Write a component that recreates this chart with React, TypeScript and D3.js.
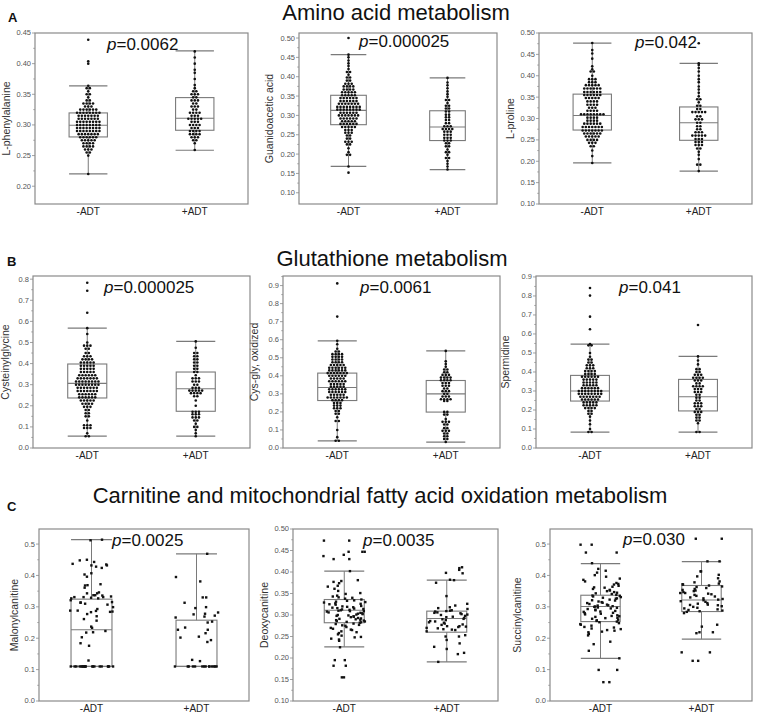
import React from 'react';
import * as d3 from 'd3';

// ---------- DATA ----------
const groups = ['-ADT', '+ADT'];
const sectionTitles = [
  'Amino acid metabolism',
  'Glutathione metabolism',
  'Carnitine and mitochondrial fatty acid oxidation metabolism',
];
const sectionLetters = ['A', 'B', 'C'];
const metaboliteNames = [
  'L-phenylalanine', 'Guanidoacetic acid', 'L-proline',
  'Cysteinylglycine', 'Cys-gly, oxidized', 'Spermidine',
  'Malonylcanitine', 'Deoxycanitine', 'Succinylcanitine',
];
const pValues = ['0.0062', '0.000025', '0.042', '0.000025', '0.0061', '0.041', '0.0025', '0.0035', '0.030'];

const yDomains: [number, number][] = [
  [0.171, 0.45], [0.071, 0.513], [0.1, 0.5],
  [0, 0.815], [0, 0.953], [0, 0.905],
  [0, 0.548], [0.1, 0.5], [0, 0.548],
];
const ticksA1 = [0.2, 0.25, 0.3, 0.35, 0.4, 0.45];
const ticks010_050 = [0.1, 0.15, 0.2, 0.25, 0.3, 0.35, 0.4, 0.45, 0.5];
const ticks0_08 = [0, 0.1, 0.2, 0.3, 0.4, 0.5, 0.6, 0.7, 0.8];
const ticks0_09 = [0, 0.1, 0.2, 0.3, 0.4, 0.5, 0.6, 0.7, 0.8, 0.9];
const ticks0_05 = [0, 0.1, 0.2, 0.3, 0.4, 0.5];
const yTickSets = [ticksA1, ticks010_050, ticks010_050, ticks0_08, ticks0_09, ticks0_09, ticks0_05, ticks010_050, ticks0_05];
const tickDecimals = [2, 2, 2, 1, 1, 1, 1, 2, 1];

// box stats: [lower whisker, Q1, median, Q3, upper whisker]
const boxMinus = [
  [0.220, 0.2804, 0.2995, 0.3196, 0.3636],
  [0.168, 0.276, 0.313, 0.352, 0.457],
  [0.196, 0.273, 0.307, 0.357, 0.4765],
  [0.056, 0.237, 0.306, 0.398, 0.568],
  [0.039, 0.263, 0.335, 0.415, 0.594],
  [0.084, 0.247, 0.300, 0.382, 0.547],
  [0.110, 0.110, 0.227, 0.3245, 0.514],
  [0.226, 0.282, 0.311, 0.336, 0.402],
  [0.136, 0.253, 0.301, 0.337, 0.438],
];
const boxPlus = [
  [0.2587, 0.2913, 0.3109, 0.3446, 0.4207],
  [0.160, 0.235, 0.270, 0.312, 0.397],
  [0.177, 0.249, 0.290, 0.327, 0.429],
  [0.056, 0.174, 0.281, 0.360, 0.505],
  [0.033, 0.199, 0.300, 0.374, 0.538],
  [0.084, 0.195, 0.270, 0.361, 0.482],
  [0.110, 0.110, 0.110, 0.2575, 0.469],
  [0.191, 0.260, 0.292, 0.309, 0.381],
  [0.197, 0.285, 0.322, 0.368, 0.444],
];

// dot-plot data: [value, number of patients at that value]
const phenylalanineMinus: [number, number][] = [
  [0.220, 1], [0.250, 1], [0.255, 2], [0.260, 3], [0.265, 4], [0.270, 4], [0.275, 5], [0.280, 6], [0.285, 7],
  [0.290, 8], [0.295, 8], [0.300, 8], [0.305, 8], [0.310, 7], [0.315, 7], [0.320, 8], [0.325, 6], [0.330, 3],
  [0.335, 4], [0.340, 2], [0.345, 1], [0.350, 2], [0.355, 1], [0.360, 2], [0.364, 1], [0.400, 1], [0.404, 1], [0.439, 1],
];
const phenylalaninePlus: [number, number][] = [
  [0.259, 1], [0.270, 1], [0.275, 2], [0.280, 3], [0.285, 4], [0.290, 4], [0.295, 3], [0.300, 4], [0.305, 3],
  [0.310, 5], [0.315, 3], [0.320, 4], [0.325, 2], [0.330, 3], [0.335, 2], [0.340, 3], [0.345, 2], [0.350, 3],
  [0.355, 2], [0.360, 1], [0.365, 1], [0.375, 1], [0.385, 1], [0.390, 1], [0.400, 1], [0.410, 1], [0.420, 1],
];
const guanidoaceticMinus: [number, number][] = [
  [0.152, 1], [0.168, 1], [0.198, 2], [0.205, 1], [0.215, 1], [0.225, 2], [0.232, 3], [0.240, 2], [0.248, 2],
  [0.255, 3], [0.262, 3], [0.270, 5], [0.278, 6], [0.285, 5], [0.292, 6], [0.300, 7], [0.307, 6], [0.315, 8],
  [0.322, 8], [0.330, 7], [0.337, 6], [0.345, 6], [0.352, 5], [0.360, 5], [0.367, 4], [0.375, 4], [0.382, 3],
  [0.390, 2], [0.398, 2], [0.405, 1], [0.412, 2], [0.420, 1], [0.428, 1], [0.435, 1], [0.442, 1], [0.450, 1],
  [0.457, 1], [0.500, 1],
];
const guanidoaceticPlus: [number, number][] = [
  [0.160, 1], [0.168, 1], [0.175, 1], [0.182, 1], [0.190, 2], [0.198, 1], [0.205, 2], [0.212, 1], [0.220, 2],
  [0.228, 2], [0.235, 3], [0.242, 3], [0.250, 3], [0.258, 3], [0.265, 4], [0.272, 3], [0.280, 2], [0.288, 2],
  [0.295, 2], [0.302, 2], [0.310, 2], [0.318, 2], [0.325, 2], [0.332, 1], [0.340, 2], [0.348, 1], [0.355, 1],
  [0.362, 1], [0.370, 1], [0.378, 1], [0.385, 1], [0.397, 1],
];
const prolineMinus: [number, number][] = [
  [0.196, 1], [0.212, 1], [0.225, 1], [0.235, 2], [0.243, 3], [0.250, 4], [0.258, 5], [0.265, 6], [0.272, 7],
  [0.280, 7], [0.288, 6], [0.295, 4], [0.302, 4], [0.310, 8], [0.318, 4], [0.325, 3], [0.332, 4], [0.340, 4],
  [0.348, 5], [0.355, 6], [0.362, 6], [0.370, 6], [0.378, 5], [0.385, 3], [0.392, 3], [0.400, 1], [0.410, 2],
  [0.415, 1], [0.422, 1], [0.440, 1], [0.452, 1], [0.460, 1], [0.4765, 1],
];
const prolinePlus: [number, number][] = [
  [0.177, 1], [0.192, 2], [0.205, 1], [0.215, 1], [0.222, 1], [0.230, 2], [0.238, 3], [0.245, 3], [0.252, 3],
  [0.260, 5], [0.268, 3], [0.275, 2], [0.282, 2], [0.290, 2], [0.298, 3], [0.305, 2], [0.315, 5], [0.322, 2],
  [0.330, 2], [0.338, 1], [0.345, 2], [0.352, 1], [0.360, 1], [0.368, 1], [0.375, 1], [0.385, 1], [0.392, 1],
  [0.400, 1], [0.410, 1], [0.418, 1], [0.425, 1], [0.429, 1], [0.476, 1],
];
const cysteinylglycineMinus: [number, number][] = [
  [0.056, 2], [0.070, 1], [0.095, 3], [0.108, 3], [0.130, 1], [0.150, 2], [0.165, 2], [0.180, 2], [0.195, 3],
  [0.210, 4], [0.225, 5], [0.240, 6], [0.255, 6], [0.270, 7], [0.285, 7], [0.300, 8], [0.315, 8], [0.330, 7],
  [0.345, 6], [0.360, 5], [0.375, 5], [0.390, 5], [0.405, 5], [0.420, 4], [0.435, 3], [0.450, 2], [0.470, 2],
  [0.485, 3], [0.500, 1], [0.540, 1], [0.568, 1], [0.641, 1], [0.745, 1], [0.783, 1],
];
const cysteinylglycinePlus: [number, number][] = [
  [0.056, 1], [0.070, 1], [0.085, 1], [0.100, 2], [0.115, 1], [0.130, 2], [0.145, 3], [0.160, 3], [0.172, 3],
  [0.200, 1], [0.225, 1], [0.245, 2], [0.260, 4], [0.272, 5], [0.285, 3], [0.300, 2], [0.315, 3], [0.330, 3],
  [0.345, 1], [0.360, 2], [0.375, 2], [0.390, 2], [0.405, 2], [0.420, 2], [0.435, 2], [0.450, 2], [0.475, 1],
  [0.505, 1],
];
const cysGlyOxMinus: [number, number][] = [
  [0.040, 2], [0.060, 1], [0.100, 1], [0.150, 2], [0.170, 1], [0.190, 2], [0.205, 2], [0.220, 3], [0.235, 3],
  [0.250, 3], [0.265, 4], [0.280, 7], [0.295, 5], [0.310, 6], [0.325, 6], [0.340, 5], [0.355, 5], [0.370, 6],
  [0.385, 5], [0.400, 6], [0.415, 7], [0.430, 6], [0.445, 6], [0.460, 5], [0.475, 4], [0.490, 4], [0.505, 4],
  [0.520, 4], [0.535, 2], [0.550, 1], [0.575, 1], [0.594, 1], [0.728, 1], [0.912, 1],
];
const cysGlyOxPlus: [number, number][] = [
  [0.033, 1], [0.050, 2], [0.065, 2], [0.080, 2], [0.095, 3], [0.110, 2], [0.130, 2], [0.145, 3], [0.160, 1],
  [0.185, 2], [0.200, 2], [0.260, 2], [0.270, 4], [0.285, 3], [0.300, 2], [0.315, 3], [0.330, 2], [0.345, 3],
  [0.360, 3], [0.375, 4], [0.390, 4], [0.405, 3], [0.420, 2], [0.435, 2], [0.450, 1], [0.465, 1], [0.480, 1],
  [0.538, 1],
];
const spermidineMinus: [number, number][] = [
  [0.084, 2], [0.100, 1], [0.125, 1], [0.145, 1], [0.165, 1], [0.180, 2], [0.195, 2], [0.210, 4], [0.225, 5],
  [0.240, 5], [0.255, 6], [0.270, 7], [0.285, 8], [0.300, 8], [0.315, 6], [0.330, 5], [0.345, 5], [0.360, 5],
  [0.375, 6], [0.390, 4], [0.405, 4], [0.420, 3], [0.435, 3], [0.450, 2], [0.465, 2], [0.480, 1], [0.500, 1],
  [0.540, 2], [0.547, 1], [0.625, 1], [0.691, 1], [0.802, 1], [0.842, 1],
];
const spermidinePlus: [number, number][] = [
  [0.084, 2], [0.130, 1], [0.145, 2], [0.160, 2], [0.175, 2], [0.190, 3], [0.205, 2], [0.220, 3], [0.235, 3],
  [0.250, 2], [0.265, 2], [0.280, 2], [0.295, 3], [0.310, 3], [0.325, 4], [0.340, 2], [0.355, 3], [0.370, 4],
  [0.385, 3], [0.400, 2], [0.415, 2], [0.440, 1], [0.460, 1], [0.482, 1], [0.647, 1],
];

// jittered scatter data (one value per patient)
const malonylMinus = [
  0.514, 0.512, 0.407, 0.437, 0.432, 0.435, 0.450, 0.432, 0.443, 0.424, 0.396, 0.403, 0.428, 0.448, 0.369,
  0.343, 0.343, 0.346, 0.372, 0.329, 0.331, 0.368, 0.361, 0.336, 0.333, 0.337, 0.337, 0.331, 0.331, 0.327,
  0.327, 0.299, 0.315, 0.307, 0.310, 0.288, 0.261, 0.256, 0.321, 0.287, 0.285, 0.284, 0.283, 0.288, 0.314,
  0.270, 0.293, 0.277, 0.313, 0.219, 0.203, 0.233, 0.237, 0.176, 0.223, 0.129, 0.184, 0.218,
  0.11, 0.11, 0.11, 0.11, 0.11, 0.11, 0.11, 0.11, 0.11, 0.11, 0.11, 0.11, 0.11, 0.11, 0.11, 0.11, 0.11, 0.11, 0.11, 0.11,
];
const malonylPlus = [
  0.469, 0.395, 0.381, 0.330, 0.330, 0.299, 0.313, 0.272, 0.266, 0.253, 0.250, 0.282, 0.194, 0.227, 0.276,
  0.227, 0.216, 0.205, 0.188, 0.278, 0.269, 0.296, 0.234, 0.127, 0.131, 0.202,
  0.11, 0.11, 0.11, 0.11, 0.11, 0.11, 0.11, 0.11, 0.11, 0.11, 0.11, 0.11, 0.11, 0.11,
];
const deoxyMinus = [
  0.473, 0.473, 0.447, 0.447, 0.447, 0.440, 0.437, 0.430, 0.430, 0.402, 0.225, 0.182, 0.182, 0.195, 0.195,
  0.155, 0.155,
  0.381, 0.379, 0.377, 0.374, 0.366, 0.368, 0.361, 0.356, 0.351, 0.349, 0.345, 0.343, 0.341, 0.340, 0.338,
  0.336, 0.334, 0.333, 0.331, 0.330, 0.329, 0.327, 0.326, 0.325, 0.324, 0.321, 0.320, 0.319, 0.318, 0.317,
  0.316, 0.315, 0.314, 0.313, 0.312, 0.311, 0.310, 0.309, 0.309, 0.308, 0.306, 0.305, 0.304, 0.303, 0.302,
  0.301, 0.300, 0.299, 0.298, 0.297, 0.296, 0.295, 0.293, 0.292, 0.291, 0.290, 0.289, 0.288, 0.287, 0.286,
  0.285, 0.284, 0.283, 0.282, 0.280, 0.279, 0.277, 0.276, 0.275, 0.272, 0.270, 0.268, 0.266, 0.265, 0.262,
  0.260, 0.258, 0.255, 0.252, 0.249, 0.248, 0.245, 0.243, 0.240,
];
const deoxyPlus = [
  0.405, 0.411, 0.409, 0.398, 0.397, 0.382, 0.381, 0.375, 0.344, 0.322, 0.274, 0.270, 0.221, 0.212, 0.209,
  0.234, 0.191, 0.250, 0.253, 0.250, 0.226, 0.242, 0.266, 0.273, 0.282, 0.326,
  0.318, 0.316, 0.314, 0.311, 0.310, 0.309, 0.308, 0.306, 0.305, 0.304, 0.302, 0.301, 0.300, 0.298, 0.296,
  0.295, 0.293, 0.291, 0.290, 0.288, 0.286, 0.285, 0.283, 0.280, 0.278, 0.277, 0.274, 0.272, 0.269, 0.267,
  0.265, 0.262,
];
const succinylMinus = [
  0.498, 0.498, 0.473, 0.473, 0.439, 0.099, 0.099, 0.060, 0.060, 0.160, 0.181, 0.189, 0.136,
  0.421, 0.415, 0.409, 0.401, 0.396, 0.390, 0.386, 0.381, 0.376, 0.373, 0.371, 0.367, 0.364, 0.362, 0.361,
  0.357, 0.354, 0.352, 0.350, 0.347, 0.345, 0.343, 0.341, 0.338, 0.336, 0.335, 0.333, 0.331, 0.329, 0.327,
  0.326, 0.323, 0.321, 0.320, 0.317, 0.315, 0.313, 0.312, 0.309, 0.307, 0.305, 0.304, 0.302, 0.301, 0.300,
  0.298, 0.297, 0.295, 0.293, 0.291, 0.289, 0.287, 0.285, 0.284, 0.281, 0.280, 0.278, 0.276, 0.273, 0.271,
  0.270, 0.268, 0.265, 0.264, 0.262, 0.259, 0.257, 0.255, 0.253, 0.251, 0.248, 0.245, 0.243, 0.240, 0.236,
  0.234, 0.231, 0.229, 0.226, 0.224, 0.221, 0.219, 0.214, 0.209,
];
const succinylPlus = [
  0.517, 0.517, 0.445, 0.445, 0.413, 0.402, 0.391, 0.397, 0.413, 0.344, 0.306, 0.280, 0.219, 0.243, 0.216,
  0.237, 0.219, 0.128, 0.128, 0.155, 0.155,
  0.381, 0.378, 0.374, 0.372, 0.371, 0.368, 0.365, 0.363, 0.360, 0.357, 0.354, 0.352, 0.350, 0.347, 0.344,
  0.342, 0.340, 0.338, 0.335, 0.333, 0.330, 0.327, 0.325, 0.323, 0.321, 0.318, 0.316, 0.312, 0.310, 0.307,
  0.305, 0.302, 0.300, 0.297, 0.295, 0.292, 0.290, 0.288, 0.286, 0.284,
];

const dotData: ([number, number][] | null)[][] = [
  [phenylalanineMinus, phenylalaninePlus],
  [guanidoaceticMinus, guanidoaceticPlus],
  [prolineMinus, prolinePlus],
  [cysteinylglycineMinus, cysteinylglycinePlus],
  [cysGlyOxMinus, cysGlyOxPlus],
  [spermidineMinus, spermidinePlus],
];
const scatterData: number[][][] = [
  [malonylMinus, malonylPlus],
  [deoxyMinus, deoxyPlus],
  [succinylMinus, succinylPlus],
];

// ---------- LAYOUT ----------
const W = 758;
const H = 714;
const panelBoxes = [
  { x0: 35, x1: 248, y0: 33, y1: 204 },
  { x0: 299, x1: 497, y0: 33, y1: 204 },
  { x0: 539, x1: 752, y0: 33, y1: 204 },
  { x0: 33, x1: 250, y0: 276, y1: 448 },
  { x0: 283, x1: 500, y0: 276, y1: 448 },
  { x0: 536, x1: 752, y0: 276, y1: 448 },
  { x0: 39, x1: 249, y0: 529, y1: 701 },
  { x0: 293, x1: 498, y0: 529, y1: 701 },
  { x0: 550, x1: 752, y0: 529, y1: 701 },
];
const pPos = [
  [107, 50], [359, 47], [635, 48],
  [104, 293], [360, 293], [619, 293],
  [112, 546], [363, 546], [623, 545],
];
const yTitleOffset = [25, 26, 25, 24, 25, 27, 21, 25, 29];
const titlePos = [[396, 20], [392, 266], [380, 503]];
const letterPos = [[8, 22], [7, 266], [7, 511]];

const FONT = 'Liberation Sans, Arial, Helvetica, sans-serif';
const FRAME = '#8a8a8a';
const BOXC = '#7a7a7a';

function jitter(i: number) {
  const s = Math.sin((i + 1) * 12.9898) * 43758.5453;
  return s - Math.floor(s) - 0.5;
}

function Panel({ idx }: { idx: number }) {
  const b = panelBoxes[idx];
  const y = d3.scaleLinear().domain(yDomains[idx]).range([b.y1, b.y0]);
  const x = d3.scalePoint<string>().domain(groups).range([b.x0, b.x1]).padding(0.5);
  const width = b.x1 - b.x0;
  const boxW = idx >= 6 ? width * 0.195 : width * 0.18;
  const ticks = yTickSets[idx];
  const fmt = d3.format(`.${tickDecimals[idx]}f`);
  const step = ticks[1] - ticks[0];
  const minor: number[] = [];
  ticks.forEach((t) => {
    const m = t + step / 2;
    if (m <= yDomains[idx][1] + 1e-9) minor.push(m);
  });
  const boxes = [boxMinus[idx], boxPlus[idx]];
  const dotSpacing = 3.2;

  return (
    <g>
      <rect x={b.x0} y={b.y0} width={width} height={b.y1 - b.y0} fill="white" stroke={FRAME} strokeWidth={1.2} />
      {ticks.map((t) => (
        <g key={`t${t}`}>
          <line x1={b.x0 - 3} x2={b.x0} y1={y(t)} y2={y(t)} stroke={FRAME} strokeWidth={0.8} />
          <text x={b.x0 - 4} y={y(t)} dy="0.33em" textAnchor="end" fontSize={7.5} fill="#555" fontFamily={FONT}>
            {fmt(t)}
          </text>
        </g>
      ))}
      {minor.map((t) => (
        <line key={`m${t}`} x1={b.x0 - 1.8} x2={b.x0} y1={y(t)} y2={y(t)} stroke={FRAME} strokeWidth={0.7} />
      ))}
      <text
        transform={`translate(${b.x0 - yTitleOffset[idx]},${(b.y0 + b.y1) / 2}) rotate(-90)`}
        textAnchor="middle"
        fontSize={10.5}
        fill="#333"
        fontFamily={FONT}
      >
        {metaboliteNames[idx]}
      </text>
      {groups.map((g) => (
        <text key={g} x={x(g)} y={b.y1 + 11} textAnchor="middle" fontSize={10} fill="#222" fontFamily={FONT}>
          {g}
        </text>
      ))}
      {groups.map((g, gi) => {
        const cx = x(g) as number;
        const [lo, q1, med, q3, hi] = boxes[gi];
        const hw = boxW / 2;
        return (
          <g key={`b${g}`}>
            <line x1={cx} x2={cx} y1={y(hi)} y2={y(q3)} stroke={BOXC} strokeWidth={1} />
            <line x1={cx} x2={cx} y1={y(q1)} y2={y(lo)} stroke={BOXC} strokeWidth={1} />
            <line x1={cx - hw} x2={cx + hw} y1={y(hi)} y2={y(hi)} stroke={BOXC} strokeWidth={1.2} />
            <line x1={cx - hw} x2={cx + hw} y1={y(lo)} y2={y(lo)} stroke={BOXC} strokeWidth={1.2} />
            <rect x={cx - hw} y={y(q3)} width={boxW} height={Math.max(0, y(q1) - y(q3))} fill="none" stroke={BOXC} strokeWidth={1.1} />
            <line x1={cx - hw} x2={cx + hw} y1={y(med)} y2={y(med)} stroke={BOXC} strokeWidth={1.1} />
          </g>
        );
      })}
      {idx < 6
        ? groups.map((g, gi) => {
            const cx = x(g) as number;
            const rows = dotData[idx][gi] as [number, number][];
            return (
              <g key={`d${g}`}>
                {rows.flatMap(([v, n], ri) =>
                  d3.range(n).map((k) => (
                    <circle
                      key={`${ri}-${k}`}
                      cx={cx + (k - (n - 1) / 2) * dotSpacing}
                      cy={y(v)}
                      r={1.3}
                      fill="#111"
                    />
                  )),
                )}
              </g>
            );
          })
        : groups.map((g, gi) => {
            const cx = x(g) as number;
            const vals = scatterData[idx - 6][gi];
            return (
              <g key={`s${g}`}>
                {vals.map((v, i) => (
                  <rect
                    key={i}
                    x={cx + jitter(i + gi * 211 + idx * 37) * boxW * 1.08 - 1.2}
                    y={y(v) - 1.2}
                    width={2.4}
                    height={2.4}
                    fill="#111"
                  />
                ))}
              </g>
            );
          })}
      <text x={pPos[idx][0]} y={pPos[idx][1]} fontSize={17} fill="#111" fontFamily={FONT}>
        <tspan fontStyle="italic">p</tspan>
        {`=${pValues[idx]}`}
      </text>
    </g>
  );
}

export default function App() {
  return (
    <svg
      width={W}
      height={H}
      viewBox={`0 0 ${W} ${H}`}
      style={{ position: 'absolute', left: 0, top: 0, background: 'white' }}
    >
      <rect x={0} y={0} width={W} height={H} fill="white" />
      {sectionTitles.map((t, i) => (
        <g key={t}>
          <text x={titlePos[i][0]} y={titlePos[i][1]} textAnchor="middle" fontSize={22} fill="#111" fontFamily={FONT}>
            {t}
          </text>
          <text x={letterPos[i][0]} y={letterPos[i][1]} fontSize={13} fontWeight="bold" fill="#111" fontFamily={FONT}>
            {sectionLetters[i]}
          </text>
        </g>
      ))}
      {d3.range(9).map((i) => (
        <Panel key={i} idx={i} />
      ))}
    </svg>
  );
}
